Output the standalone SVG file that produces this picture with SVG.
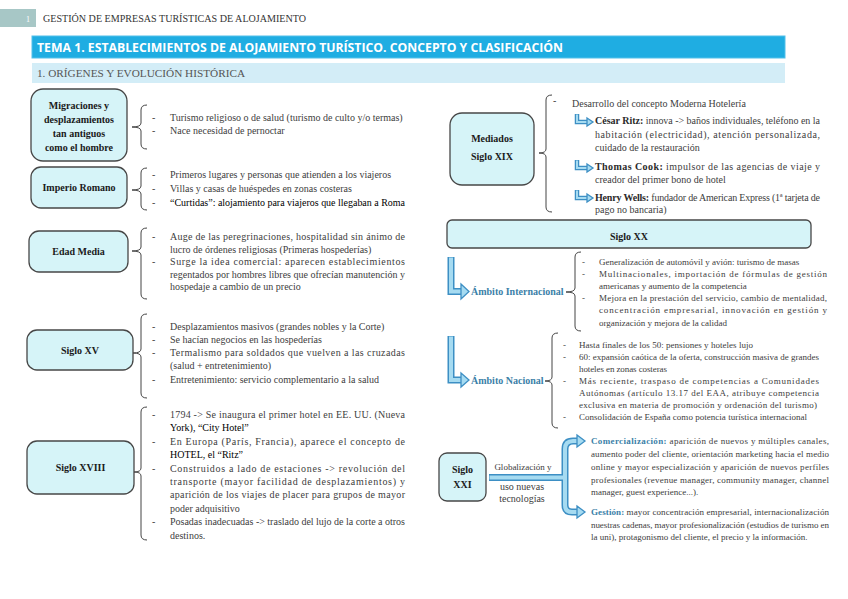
<svg xmlns="http://www.w3.org/2000/svg" width="848" height="599" viewBox="0 0 848 599">
<style>
.node{fill:#d6f4f8;stroke:#474747;stroke-width:1.3}
.nt{font-family:"Liberation Serif",serif;font-weight:bold;font-size:10px;fill:#1a1a1a;text-anchor:middle}
.t{font-family:"Liberation Serif",serif;font-size:10px;fill:#404040}
.s9{font-size:9px}
.s87{font-size:9px}
.k{fill:#000}
.b{font-weight:bold;fill:#2a2a2a}
.teal{font-weight:bold;fill:#3b7fa8}
.brace{fill:none;stroke:#444;stroke-width:1}
.ao{fill:none;stroke:#3d8fc4;stroke-width:7;stroke-linejoin:miter}
.ai{fill:none;stroke:#a6dbf1;stroke-width:4;stroke-linejoin:miter}
.so{fill:none;stroke:#3d8fc4;stroke-width:4.5}
.si{fill:none;stroke:#a6dbf1;stroke-width:2}
.ah{fill:#a6dbf1;stroke:#3d8fc4;stroke-width:1.3;stroke-linejoin:miter}
</style>

<!-- header -->
<g id="header">
<rect x="0" y="9" width="36" height="18" fill="#a7c7c6"/>
<text x="26" y="22" font-family="Liberation Serif,serif" font-size="8" fill="#fff">1</text>
<text x="43" y="22" font-family="Liberation Serif,serif" font-size="9.5" fill="#333" textLength="263" lengthAdjust="spacingAndGlyphs">GESTIÓN DE EMPRESAS TURÍSTICAS DE ALOJAMIENTO</text>
<rect x="32" y="36" width="753" height="22" fill="#1fade2" stroke="#52c0ea" stroke-width="1"/>
<text x="37" y="51.5" font-family="Open Sans,DejaVu Sans,sans-serif" font-weight="bold" font-size="11.5" fill="#fff" textLength="526" lengthAdjust="spacingAndGlyphs">TEMA 1. ESTABLECIMIENTOS DE ALOJAMIENTO TURÍSTICO. CONCEPTO Y CLASIFICACIÓN</text>
<rect x="32" y="63" width="753" height="20" fill="#d3edf7"/>
<text x="37" y="77" font-family="Liberation Serif,serif" font-size="10.5" fill="#555" textLength="208" lengthAdjust="spacingAndGlyphs">1. ORÍGENES Y EVOLUCIÓN HISTÓRICA</text>
</g>

<!-- connectors: braces and arrows -->
<g id="connectors">
<path class="brace" d="M147,105 Q141,105 141,110 V123 Q141,127 132,127 Q141,127 141,131 V144 Q141,149 147,149"/>
<path class="brace" d="M147,168 Q141,168 141,173 V186 Q141,190 132,190 Q141,190 141,194 V205 Q141,210 147,210"/>
<path class="brace" d="M147,228 Q141,228 141,233 V247 Q141,251 132,251 Q141,251 141,255 V294 Q141,299 147,299"/>
<path class="brace" d="M147,314 Q141,314 141,319 V349 Q141,353 133,353 Q141,353 141,357 V393 Q141,398 147,398"/>
<path class="brace" d="M147,407 Q141,407 141,412 V468 Q141,472 134,472 Q141,472 141,476 V535 Q141,540 147,540"/>
<path class="brace" d="M552,95 Q546,95 546,100 V149 Q546,153 539,153 Q546,153 546,157 V207 Q546,212 552,212"/>
<path class="brace" d="M581,252 Q575,252 575,257 V288 Q575,292 566,292 Q575,292 575,296 V326 Q575,331 581,331"/>
<path class="brace" d="M558,333 Q552,333 552,338 V377 Q552,381 545,381 Q552,381 552,385 V423 Q552,428 558,428"/>

<!-- small bent arrows (XIX) -->
<path class="so" d="M577,114 V122 H588"/>
<path class="so" d="M577,160 V168 H588"/>
<path class="so" d="M577,190 V198 H588"/>
<path class="si" d="M577,114.5 V122 H589"/>
<path class="si" d="M577,160.5 V168 H589"/>
<path class="si" d="M577,190.5 V198 H589"/>
<polygon class="ah" points="587,118 593,122 587,126"/>
<polygon class="ah" points="587,164 593,168 587,172"/>
<polygon class="ah" points="587,194 593,198 587,202"/>

<!-- Ámbito arrows -->
<path class="ao" d="M451,257 V291.5 H462"/>
<path class="ao" d="M451,336 V380 H462"/>
<!-- XXI arrow -->
<path class="ao" d="M489,477.5 H565"/>
<path class="ao" d="M578,441 H573 Q565,441 565,449 V505 Q565,512 572,512 H578"/>
<path class="ai" d="M451,257.5 V291.5 H463"/>
<path class="ai" d="M451,336.5 V380 H463"/>
<path class="ai" d="M489.5,477.5 H565"/>
<path class="ai" d="M579,441 H573 Q565,441 565,449 V505 Q565,512 572,512 H579"/>
<polygon class="ah" points="461,284 469,291.5 461,299"/>
<polygon class="ah" points="461,373 469,380 461,387"/>
<polygon class="ah" points="577,435 585,441 577,447"/>
<polygon class="ah" points="577,506 585,512 577,518"/>
</g>

<!-- Left nodes -->
<g id="n-migraciones">
<rect class="node" x="31" y="89" width="96" height="72" rx="12"/>
<text class="nt" x="79" y="108.5">Migraciones y</text>
<text class="nt" x="79" y="122.5">desplazamientos</text>
<text class="nt" x="79" y="136.5">tan antiguos</text>
<text class="nt" x="79" y="150.5">como el hombre</text>
<text class="t" x="152" y="120.5">-</text><text class="t" x="170" y="120.5">Turismo religioso o de salud (turismo de culto y/o termas)</text>
<text class="t" x="152" y="133.5">-</text><text class="t" x="170" y="133.5">Nace necesidad de pernoctar</text>
</g>

<g id="n-imperio">
<rect class="node" x="31" y="167" width="96" height="41" rx="10"/>
<text class="nt" x="79" y="191">Imperio Romano</text>
<text class="t" x="152" y="178">-</text><text class="t" x="170" y="178">Primeros lugares y personas que atienden a los viajeros</text>
<text class="t" x="152" y="191.5">-</text><text class="t" x="170" y="191.5">Villas y casas de huéspedes en zonas costeras</text>
<text class="t" x="152" y="205.5">-</text><text class="t k" x="170" y="205.5" textLength="235" lengthAdjust="spacingAndGlyphs">“Curtidas”: alojamiento para viajeros que llegaban a Roma</text>
</g>

<g id="n-edadmedia">
<rect class="node" x="29" y="231" width="99" height="41" rx="10"/>
<text class="nt" x="78.5" y="254.5">Edad Media</text>
<text class="t" x="152" y="240">-</text><text class="t" x="170" y="240" textLength="235">Auge de las peregrinaciones, hospitalidad sin ánimo de</text>
<text class="t" x="170" y="252.5">lucro de órdenes religiosas (Primeras hospederías)</text>
<text class="t" x="152" y="265">-</text><text class="t" x="170" y="265" textLength="235">Surge la idea comercial: aparecen establecimientos</text>
<text class="t" x="170" y="277.5" textLength="235">regentados por hombres libres que ofrecían manutención y</text>
<text class="t" x="170" y="290">hospedaje a cambio de un precio</text>
</g>

<g id="n-xv">
<rect class="node" x="27" y="330" width="106" height="40" rx="10"/>
<text class="nt" x="80" y="353.5">Siglo XV</text>
<text class="t" x="152" y="330">-</text><text class="t" x="170" y="330">Desplazamientos masivos (grandes nobles y la Corte)</text>
<text class="t" x="152" y="343">-</text><text class="t" x="170" y="343">Se hacían negocios en las hospederías</text>
<text class="t" x="152" y="356">-</text><text class="t" x="170" y="356" textLength="235">Termalismo para soldados que vuelven a las cruzadas</text>
<text class="t" x="170" y="369">(salud + entretenimiento)</text>
<text class="t" x="152" y="383">-</text><text class="t" x="170" y="383">Entretenimiento: servicio complementario a la salud</text>
</g>

<g id="n-xviii">
<rect class="node" x="27" y="441" width="107" height="53" rx="10"/>
<text class="nt" x="80.5" y="471">Siglo XVIII</text>
<text class="t" x="152" y="418">-</text><text class="t" x="170" y="418" textLength="235">1794 -&gt; Se inaugura el primer hotel en EE. UU. (Nueva</text>
<text class="t k" x="170" y="431.4">York), “City Hotel”</text>
<text class="t" x="152" y="444.8">-</text><text class="t" x="170" y="444.8" textLength="235">En Europa (París, Francia), aparece el concepto de</text>
<text class="t k" x="170" y="458.2">HOTEL, el “Ritz”</text>
<text class="t" x="152" y="471.6">-</text><text class="t" x="170" y="471.6" textLength="235">Construidos a lado de estaciones -&gt; revolución del</text>
<text class="t" x="170" y="485" textLength="235">transporte (mayor facilidad de desplazamientos) y</text>
<text class="t" x="170" y="498.4" textLength="235">aparición de los viajes de placer para grupos de mayor</text>
<text class="t" x="170" y="511.8">poder adquisitivo</text>
<text class="t" x="152" y="525.2">-</text><text class="t" x="170" y="525.2" textLength="235">Posadas inadecuadas -&gt; traslado del lujo de la corte a otros</text>
<text class="t" x="170" y="538.6">destinos.</text>
</g>

<!-- Right nodes -->
<g id="n-xix">
<rect class="node" x="450" y="113" width="84" height="72" rx="12"/>
<text class="nt" x="492" y="142">Mediados</text>
<text class="nt" x="492" y="160">Siglo XIX</text>
<text class="t" x="553" y="104">-</text><text class="t" x="572" y="107">Desarrollo del concepto Moderna Hotelería</text>
<text class="t" x="595" y="123.5" textLength="225"><tspan class="b">César Ritz:</tspan> innova -&gt; baños individuales, teléfono en la</text>
<text class="t" x="595" y="137.5" textLength="225">habitación (electricidad), atención personalizada,</text>
<text class="t" x="595" y="150.5">cuidado de la restauración</text>
<text class="t" x="595" y="169.5" textLength="225"><tspan class="b">Thomas Cook:</tspan> impulsor de las agencias de viaje y</text>
<text class="t" x="595" y="182.5">creador del primer bono de hotel</text>
<text class="t" x="595" y="200.5" textLength="225"><tspan class="b">Henry Wells:</tspan> fundador de American Express (1ª tarjeta de</text>
<text class="t" x="595" y="212.5">pago no bancaria)</text>
</g>

<g id="n-xx">
<rect class="node" x="447" y="220" width="364" height="28" rx="5"/>
<text class="nt" x="629" y="240">Siglo XX</text>
</g>

<g id="n-internacional">
<text class="t teal" x="471" y="295" font-size="10" fill="#3a7396">Ámbito Internacional</text>
<text class="t s9" x="582" y="265">-</text><text class="t s9" x="599" y="265">Generalización de automóvil y avión: turismo de masas</text>
<text class="t s9" x="582" y="277">-</text><text class="t s9" x="599" y="277" textLength="228">Multinacionales, importación de fórmulas de gestión</text>
<text class="t s9" x="599" y="289">americanas y aumento de la competencia</text>
<text class="t s9" x="582" y="301">-</text><text class="t s9" x="599" y="301" textLength="228">Mejora en la prestación del servicio, cambio de mentalidad,</text>
<text class="t s9" x="599" y="313" textLength="228">concentración empresarial, innovación en gestión y</text>
<text class="t s9" x="599" y="326">organización y mejora de la calidad</text>
</g>

<g id="n-nacional">
<text class="t teal" x="471" y="384" font-size="10" fill="#3a7396">Ámbito Nacional</text>
<text class="t s87" x="563" y="348">-</text><text class="t s87" x="579" y="348" textLength="174">Hasta finales de los 50: pensiones y hoteles lujo</text>
<text class="t s87" x="563" y="360">-</text><text class="t s87" x="579" y="360" textLength="240">60: expansión caótica de la oferta, construcción masiva de grandes</text>
<text class="t s87" x="579" y="372" textLength="88">hoteles en zonas costeras</text>
<text class="t s87" x="563" y="384">-</text><text class="t s87" x="579" y="384" textLength="240">Más reciente, traspaso de competencias a Comunidades</text>
<text class="t s87" x="579" y="396" textLength="240">Autónomas (artículo 13.17 del EAA, atribuye competencia</text>
<text class="t s87" x="579" y="408" textLength="238">exclusiva en materia de promoción y ordenación del turismo)</text>
<text class="t s87" x="563" y="420">-</text><text class="t s87" x="579" y="420" textLength="228">Consolidación de España como potencia turística internacional</text>
</g>

<g id="n-xxi">
<rect class="node" x="439" y="453" width="47" height="48" rx="8"/>
<text class="nt" x="462.5" y="473">Siglo</text>
<text class="nt" x="462.5" y="488">XXI</text>
<text class="t s9" x="523" y="470" text-anchor="middle">Globalización y</text>
<text class="t" x="522" y="490" font-size="8.3" text-anchor="middle">uso nuevas</text>
<text class="t" x="522" y="502" font-size="8.3" text-anchor="middle">tecnologías</text>
<text class="t s9" x="591" y="444" textLength="238"><tspan class="teal">Comercialización:</tspan> aparición de nuevos y múltiples canales,</text>
<text class="t s9" x="591" y="457" textLength="238">aumento poder del cliente, orientación marketing hacia el medio</text>
<text class="t s9" x="591" y="470" textLength="238">online y mayor especialización y aparición de nuevos perfiles</text>
<text class="t s9" x="591" y="483" textLength="238">profesionales (revenue manager, community manager, channel</text>
<text class="t s9" x="591" y="495">manager, guest experience...).</text>
<text class="t s9" x="591" y="515" textLength="238"><tspan class="teal">Gestión:</tspan> mayor concentración empresarial, internacionalización</text>
<text class="t s9" x="591" y="528" textLength="238">nuestras cadenas, mayor profesionalización (estudios de turismo en</text>
<text class="t s9" x="591" y="540">la uni), protagonismo del cliente, el precio y la información.</text>
</g>
</svg>
